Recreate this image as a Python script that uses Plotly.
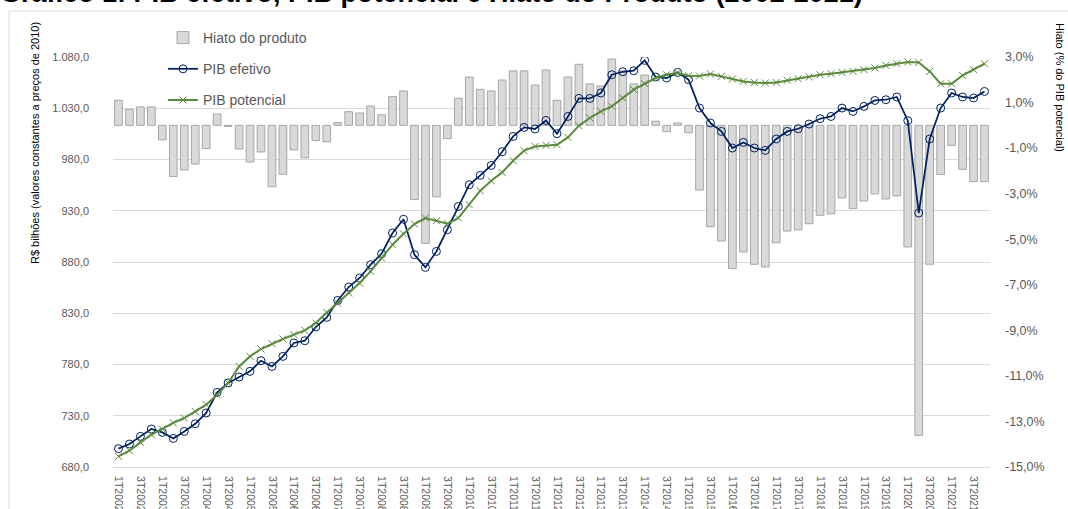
import plotly.graph_objects as go

# ---------------- data ----------------
anos = list(range(2002, 2022))
trimestres = [f"{q}T{a}" for a in anos for q in (1, 2, 3, 4)]

pib_efetivo = [
    697.9, 702.4, 709.9, 717.1, 713.8, 707.9, 714.7, 722.2, 732.7, 752.8,
    762.0, 767.8, 773.3, 783.7, 778.1, 787.9, 801.0, 803.2, 816.6, 826.0,
    842.5, 855.6, 864.4, 877.4, 888.1, 908.3, 921.7, 887.1, 874.7, 890.3,
    911.5, 934.2, 955.4, 964.5, 974.2, 987.6, 1002.5, 1011.3, 1009.8, 1018.1,
    1005.2, 1022.0, 1039.6, 1039.6, 1044.9, 1062.7, 1065.6, 1066.6, 1076.7, 1060.5,
    1059.5, 1065.0, 1057.9, 1030.2, 1015.6, 1007.4, 991.2, 996.7, 991.2, 988.9,
    1000.0, 1007.4, 1010.0, 1014.6, 1019.8, 1022.0, 1030.2, 1026.9, 1031.8, 1037.6,
    1038.3, 1041.0, 1017.9, 927.8, 1000.0, 1030.2, 1044.9, 1041.0, 1040.0, 1046.4,
]

pib_potencial = [
    690.3, 695.9, 704.0, 711.5, 717.1, 723.0, 727.8, 734.2, 740.8, 750.5,
    762.0, 778.1, 787.9, 795.1, 800.3, 804.9, 809.1, 813.3, 820.5, 830.8,
    840.0, 849.8, 859.5, 870.8, 883.9, 896.9, 907.5, 917.0, 922.9, 920.3,
    917.4, 922.9, 935.9, 949.6, 959.3, 967.4, 978.8, 988.6, 992.8, 993.8,
    994.4, 1001.6, 1013.0, 1020.5, 1026.9, 1031.8, 1040.0, 1048.1, 1053.9, 1059.5,
    1062.7, 1064.4, 1061.7, 1061.4, 1063.4, 1061.1, 1058.5, 1056.2, 1055.2, 1054.6,
    1055.2, 1057.2, 1058.8, 1060.5, 1062.7, 1063.7, 1065.0, 1066.0, 1067.6, 1069.3,
    1071.8, 1073.5, 1075.1, 1074.7, 1066.0, 1053.9, 1053.9, 1062.0, 1067.6, 1073.5,
]

hiato = [
    1.10, 0.70, 0.81, 0.81, -0.64, -2.25, -1.96, -1.70, -1.02, 0.50,
    -0.05, -1.04, -1.61, -1.17, -2.70, -2.15, -1.08, -1.43, -0.67, -0.72,
    0.12, 0.60, 0.54, 0.85, 0.46, 1.26, 1.51, -3.26, -5.18, -3.14,
    -0.58, 1.19, 2.12, 1.58, 1.51, 1.99, 2.39, 2.39, 1.77, 2.43,
    1.10, 2.12, 2.68, 1.82, 1.73, 2.91, 2.39, 1.82, 2.21, 0.18,
    -0.28, 0.10, -0.32, -2.84, -4.45, -5.08, -6.29, -5.56, -6.10, -6.22,
    -5.16, -4.64, -4.59, -4.32, -3.95, -3.89, -3.19, -3.66, -3.32, -3.01,
    -3.23, -3.10, -5.34, -13.61, -6.10, -2.16, -0.88, -1.93, -2.47, -2.47,
]

pib_ticks = [680, 730, 780, 830, 880, 930, 980, 1030, 1080]
pib_ticktext = ["680,0", "730,0", "780,0", "830,0", "880,0", "930,0", "980,0", "1.030,0", "1.080,0"]
hiato_ticks = [3, 1, -1, -3, -5, -7, -9, -11, -13, -15]
hiato_ticktext = ["3,0%", "1,0%", "-1,0%", "-3,0%", "-5,0%", "-7,0%", "-9,0%", "-11,0%", "-13,0%", "-15,0%"]
x_ticks = trimestres[::2]

assert len(pib_efetivo) == len(pib_potencial) == len(hiato) == len(trimestres) == 80

# ---------------- figure ----------------
W, H = 1068, 509
L, R, T, B = 113, 78, 57, 42
pw, ph = W - L - R, H - T - B

def px_x(px):
    return (px - L) / pw

def px_y(py):
    return (H - B - py) / ph

FONT = "Liberation Sans, Arial, sans-serif"
GRAY = "#595959"

fig = go.Figure()
fig.add_trace(go.Bar(
    x=trimestres, y=hiato, name="Hiato do produto", yaxis="y",
    marker=dict(color="#d9d9d9", line=dict(color="#a6a6a6", width=1)),
    legendgroup="g1",
))
fig.add_trace(go.Scatter(
    x=trimestres, y=pib_efetivo, name="PIB efetivo", yaxis="y2",
    mode="lines+markers",
    line=dict(color="#002060", width=1.75),
    marker=dict(symbol="circle-open", size=8, color="#002060", line=dict(width=1)),
    legendgroup="g2",
))
fig.add_trace(go.Scatter(
    x=trimestres, y=pib_potencial, name="PIB potencial", yaxis="y2",
    mode="lines+markers",
    line=dict(color="#5a8a3c", width=2),
    marker=dict(symbol="x-thin", size=7, color="#5a8a3c", line=dict(width=1, color="#5a8a3c")),
    legendgroup="g3",
))

fig.update_layout(
    width=W, height=H,
    margin=dict(l=L, r=R, t=T, b=B, autoexpand=False),
    paper_bgcolor="white", plot_bgcolor="white",
    font=dict(family=FONT, size=11, color=GRAY),
    bargap=0.3,
    showlegend=True,
    legend=dict(
        x=px_x(163), y=px_y(22), xanchor="left", yanchor="top",
        bgcolor="rgba(0,0,0,0)", font=dict(size=14, color=GRAY),
        tracegroupgap=10, traceorder="grouped",
    ),
    title=dict(
        text="<b>Gráfico 1: PIB efetivo, PIB potencial e Hiato do Produto (2002-2021)</b>",
        x=0, xref="container", xanchor="left",
        y=1 - 2 / H, yref="container", yanchor="bottom",
        font=dict(family=FONT, size=27, color="black"),
    ),
    xaxis=dict(
        type="category", categoryorder="array", categoryarray=trimestres,
        range=[-0.5, 79.5], tickmode="array", tickvals=x_ticks,
        tickangle=90, tickfont=dict(size=10.5, color=GRAY),
        showgrid=False, showline=True, linecolor="#d9d9d9", linewidth=1,
        ticks="", automargin=False, ticklabelstandoff=6,
    ),
    yaxis=dict(
        side="right", range=[-15, 3], tickmode="array",
        tickvals=hiato_ticks, ticktext=hiato_ticktext,
        showgrid=False, zeroline=False, showline=False, ticks="",
        tickfont=dict(size=12.5, color=GRAY), automargin=False,
        ticklabelstandoff=14,
    ),
    yaxis2=dict(
        overlaying="y", side="left", range=[680, 1080], tickmode="array",
        tickvals=pib_ticks, ticktext=pib_ticktext,
        showgrid=True, gridcolor="#d9d9d9", gridwidth=1,
        zeroline=False, showline=False, ticks="",
        tickfont=dict(size=11, color=GRAY), automargin=False,
        ticklabelstandoff=23,
    ),
    annotations=[
        dict(text="R$ bilhões (valores constantes a preços de 2010)",
             xref="paper", yref="paper", x=px_x(35), y=px_y(143),
             xanchor="center", yanchor="middle", textangle=-90, showarrow=False,
             font=dict(family=FONT, size=11, color="black")),
        dict(text="Hiato (% do PIB potencial)",
             xref="paper", yref="paper", x=px_x(1060), y=px_y(87),
             xanchor="center", yanchor="middle", textangle=90, showarrow=False,
             font=dict(family=FONT, size=11, color="black")),
    ],
    shapes=[
        dict(type="rect", xref="paper", yref="paper", layer="below",
             x0=px_x(9), x1=px_x(1075), y0=px_y(530), y1=px_y(11),
             line=dict(color="#d9d9d9", width=1), fillcolor="rgba(0,0,0,0)"),
    ],
)

fig.write_html(
    "out.html",
    config={"displayModeBar": False},
    post_script="document.body.style.margin='0';document.body.style.overflow='hidden';",
)
